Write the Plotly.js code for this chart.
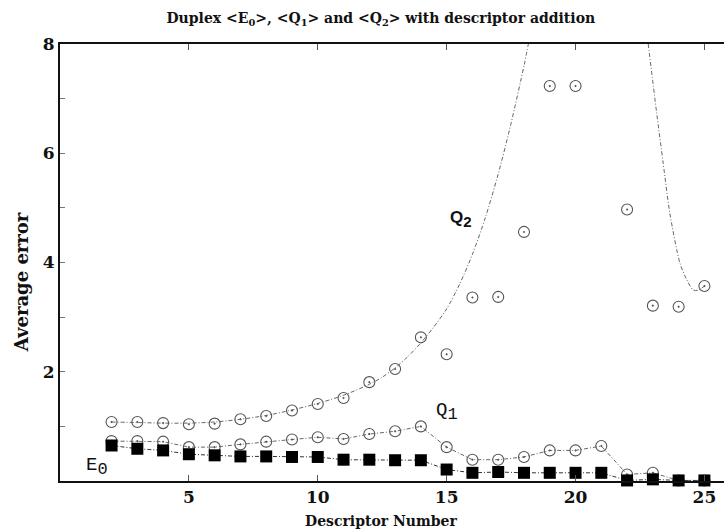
<!DOCTYPE html>
<html>
<head>
<meta charset="utf-8">
<script src="https://cdn.plot.ly/plotly-3.0.1.min.js"></script>
<style>
  html, body { margin: 0; padding: 0; background: #fff; }
  #chart { width: 724px; height: 531px; }
</style>
</head>
<body>
<div id="chart"></div>
<script>
// Descriptor count on the x axis
const descriptors = [2, 3, 4, 5, 6, 7, 8, 9, 10, 11, 12, 13, 14, 15, 16, 17, 18, 19, 20, 21, 22, 23, 24, 25];

// Average errors per number of descriptors
const e0Values = [0.65, 0.59, 0.56, 0.49, 0.47, 0.45, 0.45, 0.44, 0.44, 0.39, 0.39, 0.38, 0.38, 0.21, 0.15, 0.165, 0.15, 0.15, 0.15, 0.15, 0.01, 0.03, 0.01, 0.01];
const q1Values = [0.73, 0.73, 0.72, 0.62, 0.62, 0.67, 0.72, 0.76, 0.80, 0.77, 0.86, 0.91, 1.00, 0.62, 0.39, 0.39, 0.44, 0.56, 0.56, 0.64, 0.12, 0.15, 0.01, 0.01];
const q2Values = [1.08, 1.08, 1.06, 1.04, 1.05, 1.13, 1.19, 1.29, 1.41, 1.52, 1.81, 2.05, 2.63, 2.32, 3.36, 3.37, 4.56, 7.23, 7.23, null, 4.97, 3.21, 3.19, 3.57];

// Fitted trend through <Q2>; it leaves the top of the axis between the two branches
const q2FitX = [2, 3, 4, 5, 6, 7, 8, 9, 10, 11, 12, 12.5, 13, 13.5, 14, 14.5, 15, 15.5, 16, 16.5, 17, 17.5, 18, 18.17, null, 22.82, 23.15, 23.4, 23.66, 24.05, 24.3, 24.56, 24.75, 25];
const q2FitY = [1.08, 1.07, 1.06, 1.06, 1.08, 1.13, 1.2, 1.3, 1.42, 1.57, 1.77, 1.9, 2.07, 2.28, 2.53, 2.82, 3.15, 3.6, 4.15, 4.82, 5.62, 6.55, 7.6, 8.0, null, 8.0, 6.73, 5.82, 4.9, 3.99, 3.7, 3.5, 3.49, 3.57];

// Axis ticks
const xTickVals = [5, 10, 15, 20, 25];
const yTickVals = [1, 2, 3, 4, 5, 6, 7, 8];
const yTickText = ['', '2', '', '4', '', '6', '', '8'];

const serif = '"DejaVu Serif", "Liberation Serif", serif';
const mono = '"Liberation Mono", "DejaVu Sans Mono", monospace';
const dashDot = '4px,2px,1px,2px';

const traces = [
  {
    x: q2FitX, y: q2FitY, mode: 'lines', connectgaps: false,
    line: { color: '#666', width: 1, dash: dashDot, shape: 'spline', smoothing: 0.8 },
    hoverinfo: 'skip'
  },
  {
    x: descriptors, y: q2Values, mode: 'markers', cliponaxis: false,
    marker: { symbol: 'circle-open-dot', size: 11, color: '#555', line: { width: 1.1, color: '#555' } }
  },
  {
    x: descriptors, y: q1Values, mode: 'lines+markers', cliponaxis: false,
    line: { color: '#666', width: 1, dash: dashDot },
    marker: { symbol: 'circle-open-dot', size: 11, color: '#555', line: { width: 1.1, color: '#555' } }
  },
  {
    x: descriptors, y: e0Values, mode: 'lines+markers', cliponaxis: false,
    line: { color: '#333', width: 1, dash: dashDot },
    marker: { symbol: 'square', size: 12, color: '#000', line: { width: 0 } }
  }
];

const layout = {
  width: 724, height: 531,
  margin: { l: 60, r: 0, t: 44, b: 50 },
  paper_bgcolor: '#fff', plot_bgcolor: '#fff',
  showlegend: false,
  title: {
    text: 'Duplex <E<sub>0</sub>>, <Q<sub>1</sub>> and <Q<sub>2</sub>> with descriptor addition',
    font: { family: serif, size: 14, color: '#111', weight: 'bold' },
    x: 0.526, xanchor: 'center', y: 0.966, yanchor: 'middle'
  },
  xaxis: {
    range: [0, 25.76], showgrid: false, zeroline: false,
    showline: true, linecolor: '#111', linewidth: 2, mirror: 'ticks',
    ticks: 'inside', ticklen: 6, tickcolor: '#555', tickwidth: 1,
    tickvals: xTickVals,
    tickfont: { family: serif, size: 17, color: '#111', weight: 'bold' }
  },
  yaxis: {
    range: [0, 8], showgrid: false, zeroline: false,
    showline: true, linecolor: '#111', linewidth: 2,
    ticks: 'inside', ticklen: 5, tickcolor: '#777', tickwidth: 1,
    tickvals: yTickVals, ticktext: yTickText,
    tickfont: { family: serif, size: 17, color: '#111', weight: 'bold' }
  },
  annotations: [
    { text: 'Descriptor Number', xref: 'paper', yref: 'paper', x: 0.483, y: -0.092,
      showarrow: false, xanchor: 'center', yanchor: 'middle',
      font: { family: serif, size: 14, color: '#111', weight: 'bold' } },
    { text: 'Average error', xref: 'paper', yref: 'paper', x: -0.058, y: 0.456,
      textangle: -90, showarrow: false, xanchor: 'center', yanchor: 'middle',
      font: { family: serif, size: 18, color: '#111', weight: 'bold' } },
    { text: "E<sub><span style='font-size:17px'>0</span></sub>", xref: 'x', yref: 'y', x: 1.45, y: 0.27, showarrow: false,
      font: { family: mono, size: 19, color: '#111' } },
    { text: "Q<sub><span style='font-size:17px'>1</span></sub>", xref: 'x', yref: 'y', x: 15.0, y: 1.27, showarrow: false,
      font: { family: mono, size: 19, color: '#111' } },
    { text: "Q<sub><span style='font-size:15px'>2</span></sub>", xref: 'x', yref: 'y', x: 15.55, y: 4.8, showarrow: false,
      font: { family: '"Liberation Sans", sans-serif', size: 17, color: '#111', weight: 'bold' } }
  ]
};

Plotly.newPlot('chart', traces, layout, { displayModeBar: false, staticPlot: true });
</script>
</body>
</html>
